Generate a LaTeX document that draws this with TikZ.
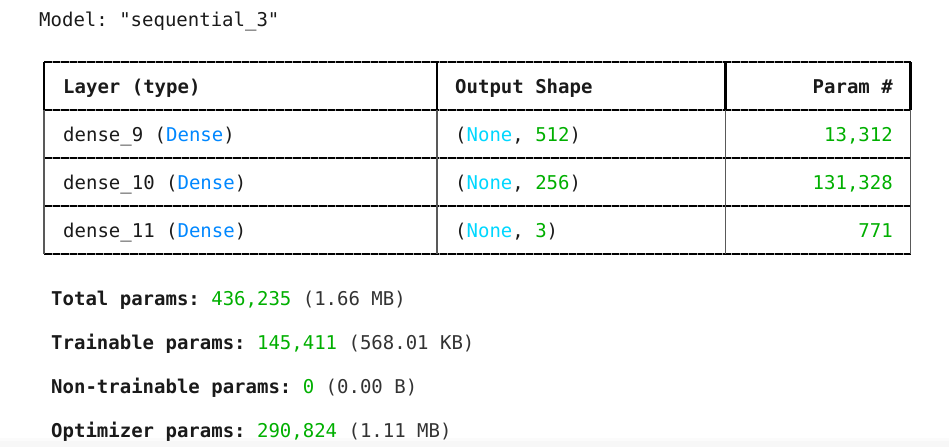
\documentclass[tikz,border=0pt]{standalone}
\usepackage{fontspec}
\setmonofont{DejaVu Sans Mono}
\definecolor{kgreen}{HTML}{00AF00}
\definecolor{kblue}{HTML}{0087FF}
\definecolor{kcyan}{HTML}{00D7FF}
\definecolor{ktext}{HTML}{1A1A1A}
\definecolor{kgray}{HTML}{333333}
\begin{document}
\begin{tikzpicture}[x=1pt,y=-1pt,
  txt/.style={inner sep=0pt, anchor=base west, text=ktext,
    font=\ttfamily\fontsize{19}{19}\selectfont},
  txtr/.style={txt, anchor=base east},
  bold/.style={font=\ttfamily\bfseries\fontsize{19}{19}\selectfont},
  hbase/.style={line width=#1, draw=gray!70},
  hdash/.style={line width=#1, draw=black, dash pattern=on 7.6pt off 1pt},
  hvert/.style={line width=2.5pt, draw=black},
  bvert/.style={line width=1.4pt, draw=black!65}]
\useasboundingbox (0,0) rectangle (949,447);
\fill[gray!6] (0,441) rectangle (949,447);
\fill[gray!3] (0,438) rectangle (949,441);

% title
\node[txt] (title) at (39,26) {Model: "sequential\_3"};

% table lines
\foreach \yy/\w in {62/2.6pt,110/2.6pt,158/2pt,206/2pt,254/2pt}{
  \draw[hbase=\w] (44,\yy) -- (910.5,\yy);
  \draw[hdash=\w] (44,\yy) -- (910.5,\yy);
}
\foreach \xx in {44,437,725.5,910.5}{
  \draw[hvert] (\xx,62) -- (\xx,110);
  \draw[bvert] (\xx,110) -- (\xx,254);
}

% header
\node[txt,bold] (h1) at (63,93) {Layer (type)};
\node[txt,bold] (h2) at (455,93) {Output Shape};
\node[txtr,bold] (h3) at (893,93) {Param \#};

% rows
\node[txt] (r1a) at (63,141) {dense\_9 (\textcolor{kblue}{Dense})};
\node[txt] (r1b) at (455,141) {(\textcolor{kcyan}{None}, \textcolor{kgreen}{512})};
\node[txtr,text=kgreen] (r1c) at (893,141) {13,312};

\node[txt] (r2a) at (63,189) {dense\_10 (\textcolor{kblue}{Dense})};
\node[txt] (r2b) at (455,189) {(\textcolor{kcyan}{None}, \textcolor{kgreen}{256})};
\node[txtr,text=kgreen] (r2c) at (893,189) {131,328};

\node[txt] (r3a) at (63,237) {dense\_11 (\textcolor{kblue}{Dense})};
\node[txt] (r3b) at (455,237) {(\textcolor{kcyan}{None}, \textcolor{kgreen}{3})};
\node[txtr,text=kgreen] (r3c) at (893,237) {771};

% summary
\node[txt] (s1) at (51,305) {\textbf{Total params:} \textcolor{kgreen}{436,235} \textcolor{kgray}{(1.66 MB)}};
\node[txt] (s2) at (51,349) {\textbf{Trainable params:} \textcolor{kgreen}{145,411} \textcolor{kgray}{(568.01 KB)}};
\node[txt] (s3) at (51,393) {\textbf{Non-trainable params:} \textcolor{kgreen}{0} \textcolor{kgray}{(0.00 B)}};
\node[txt] (s4) at (51,437) {\textbf{Optimizer params:} \textcolor{kgreen}{290,824} \textcolor{kgray}{(1.11 MB)}};
\end{tikzpicture}
\end{document}
